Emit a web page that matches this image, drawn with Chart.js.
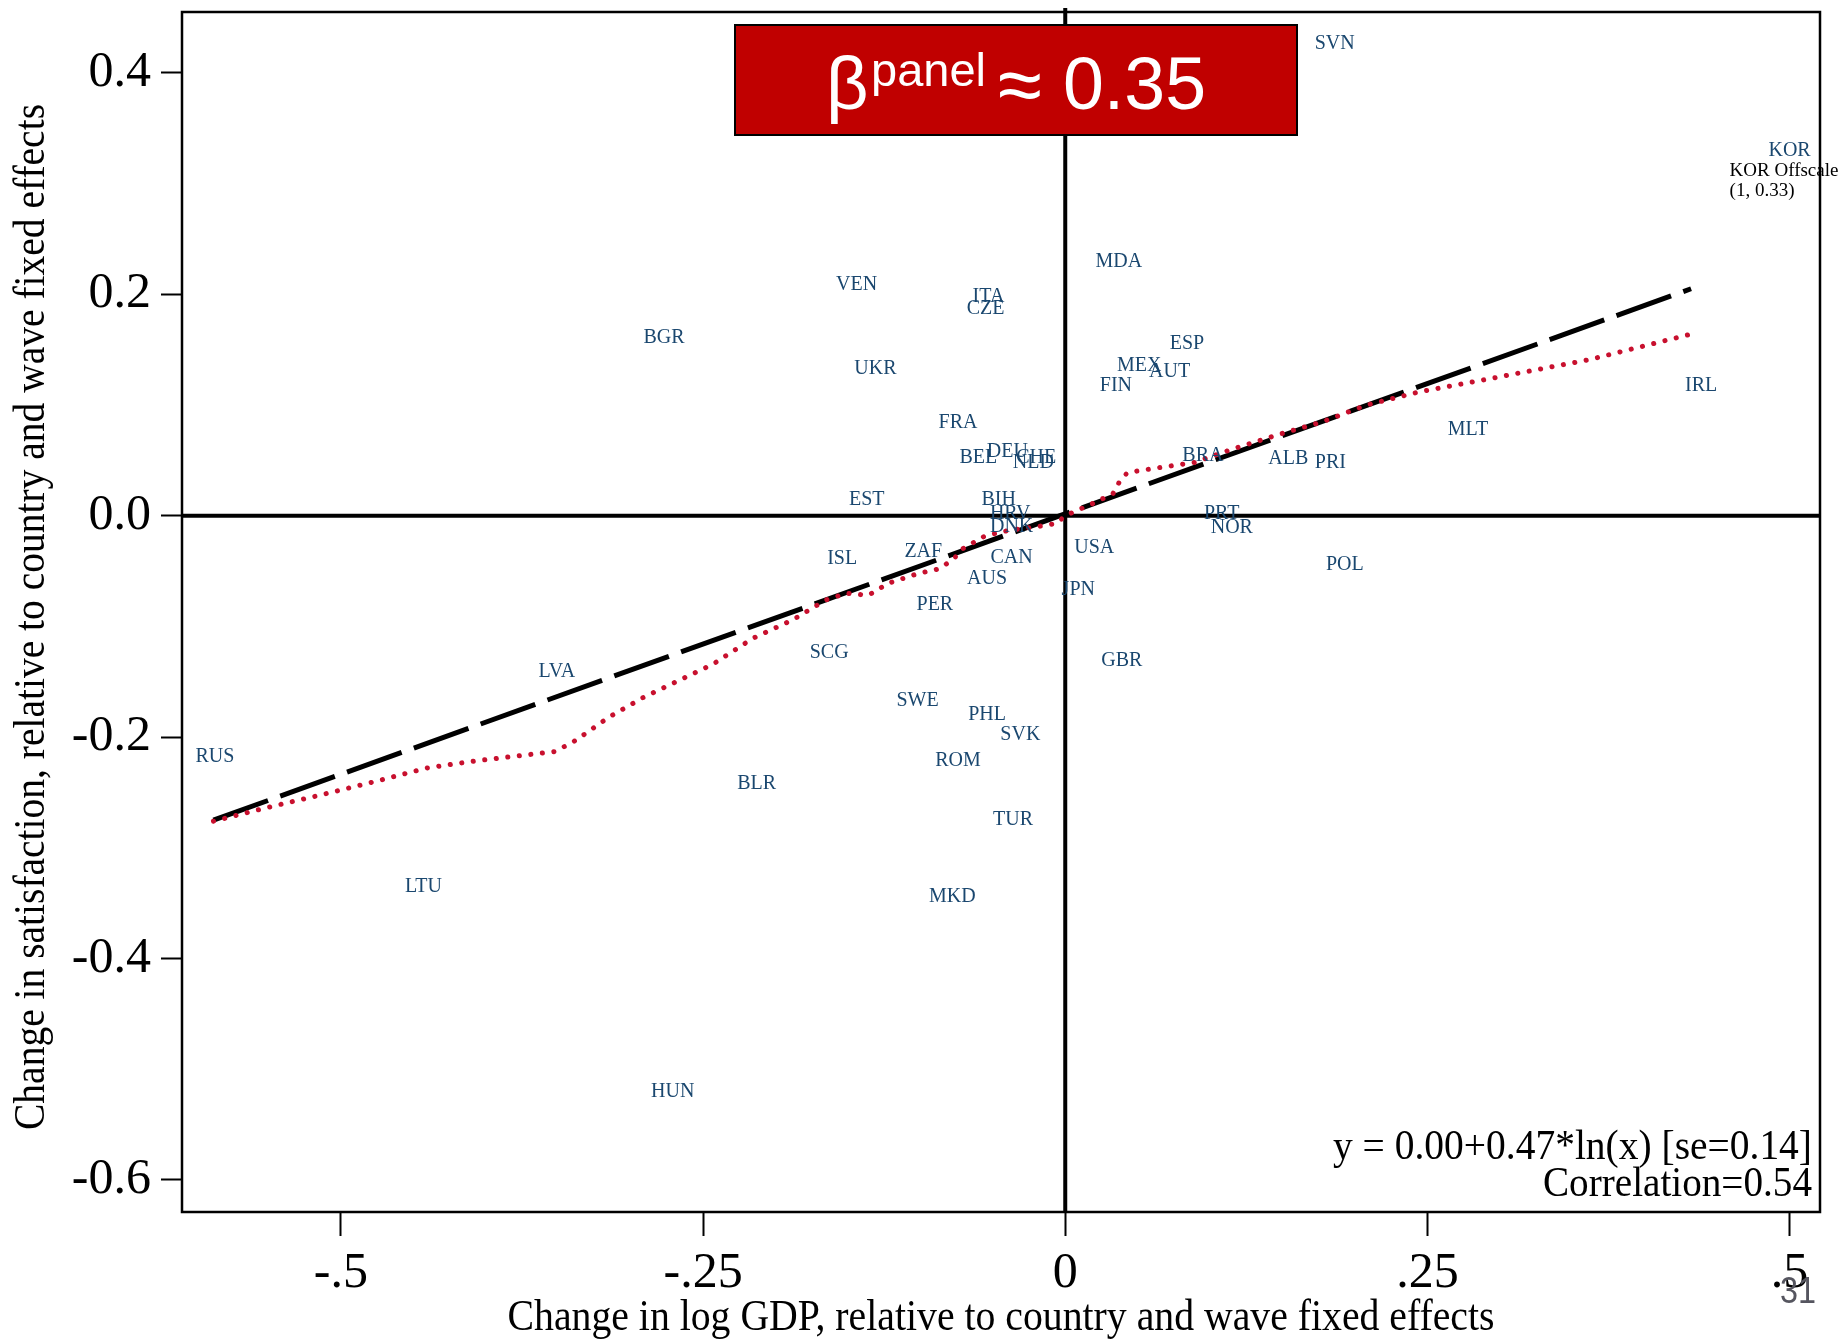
<!DOCTYPE html>
<html>
<head>
<meta charset="utf-8">
<script src="https://cdn.jsdelivr.net/npm/chart.js@4"></script>
<style>
  html, body { margin: 0; padding: 0; background: #fff; }
  #wrap { width: 1845px; height: 1339px; }
</style>
</head>
<body>
<div id="wrap"><canvas id="c" width="1845" height="1339"></canvas></div>
<script>
// ---------- data ----------
const countries = ['SVN','KOR','MDA','VEN','ITA','CZE','BGR','ESP','UKR','MEX','AUT','FIN','IRL','FRA','MLT','DEU','BEL','CHE','NLD','BRA','ALB','PRI','EST','BIH','HRV','DNK','PRT','NOR','USA','ISL','ZAF','CAN','POL','AUS','JPN','PER','SCG','GBR','LVA','SWE','PHL','SVK','RUS','ROM','BLR','TUR','LTU','MKD','HUN'];
const gdpChange = [0.186,0.500,0.037,-0.144,-0.053,-0.055,-0.277,0.084,-0.131,0.051,0.072,0.035,0.439,-0.074,0.278,-0.040,-0.060,-0.020,-0.022,0.095,0.154,0.183,-0.137,-0.046,-0.038,-0.037,0.108,0.115,0.020,-0.154,-0.098,-0.037,0.193,-0.054,0.009,-0.090,-0.163,0.039,-0.351,-0.102,-0.054,-0.031,-0.587,-0.074,-0.213,-0.036,-0.443,-0.078,-0.271];
const satChange = [0.426,0.330,0.229,0.209,0.198,0.187,0.161,0.155,0.133,0.135,0.130,0.117,0.117,0.084,0.078,0.058,0.052,0.052,0.048,0.054,0.051,0.048,0.014,0.014,0.002,-0.010,0.002,-0.011,-0.029,-0.039,-0.033,-0.038,-0.044,-0.057,-0.067,-0.080,-0.124,-0.131,-0.141,-0.167,-0.180,-0.198,-0.218,-0.221,-0.242,-0.275,-0.335,-0.344,-0.520];

// lowess smoother (red dotted)
const lowessX = [-0.588,-0.552,-0.513,-0.473,-0.441,-0.410,-0.378,-0.352,-0.338,-0.315,-0.291,-0.267,-0.243,-0.216,-0.188,-0.165,-0.151,-0.136,-0.122,-0.101,-0.087,-0.077,-0.071,-0.055,-0.038,-0.020,-0.006,0.000,0.019,0.033,0.038,0.043,0.068,0.089,0.115,0.149,0.178,0.208,0.245,0.286,0.362,0.435];
const lowessY = [-0.276,-0.264,-0.252,-0.239,-0.228,-0.222,-0.217,-0.213,-0.203,-0.182,-0.164,-0.149,-0.134,-0.111,-0.094,-0.076,-0.070,-0.072,-0.061,-0.052,-0.048,-0.039,-0.030,-0.018,-0.013,-0.010,-0.007,0.000,0.011,0.020,0.032,0.039,0.044,0.048,0.060,0.074,0.085,0.100,0.112,0.122,0.141,0.165];

// linear fit (black dashed), end points
const fitX = [-0.588, 0.432];
const fitY = [-0.275, 0.205];

const xTickVals = [-0.5, -0.25, 0, 0.25, 0.5];
const xTickLabels = ['-.5', '-.25', '0', '.25', '.5'];
const yTickVals = [0.4, 0.2, 0, -0.2, -0.4, -0.6];
const yTickLabels = ['0.4', '0.2', '0.0', '-0.2', '-0.4', '-0.6'];

const xTitle = 'Change in log GDP, relative to country and wave fixed effects';
const yTitle = 'Change in satisfaction, relative to country and wave fixed effects';
const statLines = ['y = 0.00+0.47*ln(x) [se=0.14]', 'Correlation=0.54'];
const korNote = ['KOR Offscale', '(1, 0.33)'];
const pageNum = '31';

// ---------- helpers ----------
const SERIF = '"Liberation Serif", "Times New Roman", serif';
const SANS = '"Liberation Sans", Arial, sans-serif';
function drawText(ctx, text, x, y, o) {
  ctx.save();
  ctx.font = o.font;
  ctx.fillStyle = o.color || '#000';
  ctx.textBaseline = o.baseline || 'alphabetic';
  ctx.textAlign = o.align || 'left';
  const w = ctx.measureText(text).width;
  const sx = o.width ? o.width / w : (o.scaleX || 1);
  ctx.translate(x, y);
  if (o.rotate) ctx.rotate(o.rotate);
  ctx.scale(sx, 1);
  ctx.fillText(text, 0, 0);
  ctx.restore();
}

const decor = {
  id: 'decor',
  beforeDatasetsDraw(chart) {
    const {ctx, chartArea: a, scales: {x, y}} = chart;
    ctx.save();
    ctx.strokeStyle = '#000';
    ctx.lineCap = 'butt';
    // reference lines at 0
    ctx.lineWidth = 4;
    const x0 = x.getPixelForValue(0), y0 = y.getPixelForValue(0);
    ctx.beginPath(); ctx.moveTo(x0, a.top - 4); ctx.lineTo(x0, a.bottom); ctx.stroke();
    ctx.beginPath(); ctx.moveTo(a.left, y0); ctx.lineTo(a.right, y0); ctx.stroke();
    // frame
    ctx.lineWidth = 2.5;
    ctx.strokeRect(a.left, a.top, a.right - a.left, a.bottom - a.top);
    ctx.restore();
  },
  afterDatasetsDraw(chart) {
    const {ctx, chartArea: a} = chart;
    const meta = chart.getDatasetMeta(0);
    meta.data.forEach((pt, i) => {
      drawText(ctx, countries[i], pt.x, pt.y, {font: '20px ' + SERIF, color: '#1a476f', align: 'center', baseline: 'middle'});
      if (countries[i] === 'KOR') {
        drawText(ctx, korNote[0], pt.x - 60, pt.y + 26, {font: '19px ' + SERIF, color: '#000'});
        drawText(ctx, korNote[1], pt.x - 60, pt.y + 46, {font: '19px ' + SERIF, color: '#000'});
      }
    });
    // stats text
    drawText(ctx, statLines[0], a.right - 8, 1159, {font: '42px ' + SERIF, align: 'right', width: 479});
    drawText(ctx, statLines[1], a.right - 8, 1196, {font: '42px ' + SERIF, align: 'right', width: 269});
    // axis titles
    drawText(ctx, xTitle, (a.left + a.right) / 2, 1330, {font: '44px ' + SERIF, align: 'center', width: 987});
    drawText(ctx, yTitle, 44, 617, {font: '44px ' + SERIF, align: 'center', width: 1026, rotate: -Math.PI / 2});
    // red box
    ctx.save();
    ctx.fillStyle = '#c00000';
    ctx.fillRect(735, 25, 562, 110);
    ctx.strokeStyle = '#000'; ctx.lineWidth = 2;
    ctx.strokeRect(735, 25, 562, 110);
    ctx.restore();
    drawText(ctx, 'β', 826, 109, {font: '74px ' + SANS, color: '#fff'});
    drawText(ctx, 'panel', 871, 86, {font: '47px ' + SANS, color: '#fff'});
    drawText(ctx, '≈', 998, 112, {font: '80px ' + SANS, color: '#fff'});
    drawText(ctx, '0.35', 1063, 109, {font: '74px ' + SANS, color: '#fff', width: 143});
    // page number
    drawText(ctx, pageNum, 1816, 1303, {font: '36px ' + SANS, color: '#55555f', align: 'right', width: 36});
  }
};

new Chart(document.getElementById('c'), {
  type: 'scatter',
  data: {
    datasets: [
      {
        label: 'countries',
        data: countries.map((c, i) => ({x: gdpChange[i], y: satChange[i]})),
        pointRadius: 0, pointHoverRadius: 0, showLine: false
      },
      {
        label: 'lowess',
        type: 'line',
        data: lowessX.map((v, i) => ({x: v, y: lowessY[i]})),
        borderColor: '#c8102e', borderWidth: 5, borderDash: [0.1, 11.5],
        borderCapStyle: 'round', borderJoinStyle: 'round',
        pointRadius: 0, fill: false, tension: 0
      },
      {
        label: 'fit',
        type: 'line',
        data: fitX.map((v, i) => ({x: v, y: fitY[i]})),
        borderColor: '#000', borderWidth: 5, borderDash: [58, 13],
        borderCapStyle: 'butt', pointRadius: 0, fill: false, tension: 0
      }
    ]
  },
  options: {
    responsive: false,
    animation: false,
    events: [],
    layout: {padding: {top: 12, right: 25, left: 0, bottom: 0}},
    plugins: {legend: {display: false}, tooltip: {enabled: false}, title: {display: false}},
    scales: {
      x: {
        type: 'linear', position: 'bottom',
        min: -0.6097, max: 0.521,
        afterBuildTicks: s => { s.ticks = xTickVals.map(v => ({value: v})); },
        afterFit: s => { s.height = 127; s.paddingLeft = 0; s.paddingRight = 0; },
        ticks: {
          callback: (v, i) => xTickLabels[i],
          font: {family: SERIF, size: 50}, color: '#000',
          padding: 8, maxRotation: 0, autoSkip: false
        },
        grid: {drawOnChartArea: false, drawTicks: true, tickLength: 24, tickColor: '#000', tickWidth: 2},
        border: {display: false}
      },
      y: {
        type: 'linear', position: 'left',
        min: -0.629, max: 0.455,
        afterBuildTicks: s => { s.ticks = yTickVals.map(v => ({value: v})); },
        afterFit: s => { s.width = 182; s.paddingTop = 0; s.paddingBottom = 0; },
        ticks: {
          callback: (v, i) => yTickLabels[i],
          font: {family: SERIF, size: 50}, color: '#000',
          padding: 10, autoSkip: false
        },
        grid: {drawOnChartArea: false, drawTicks: true, tickLength: 21, tickColor: '#000', tickWidth: 2},
        border: {display: false}
      }
    }
  },
  plugins: [decor]
});
</script>
</body>
</html>
